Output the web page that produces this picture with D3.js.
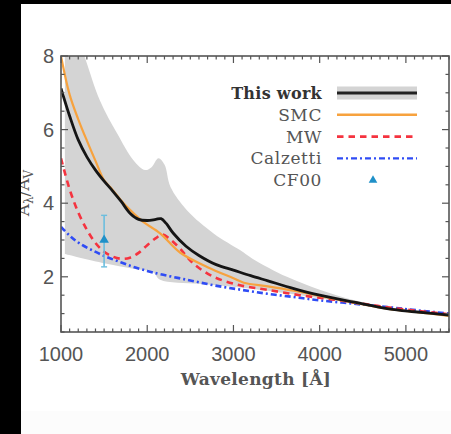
<!DOCTYPE html>
<html>
<head>
<meta charset="utf-8">
<script src="https://cdn.jsdelivr.net/npm/d3@7"></script>
<style>
  html, body { margin: 0; padding: 0; background: #fff; }
  svg { display: block; }
</style>
</head>
<body>
<svg id="chart" width="451" height="434"></svg>
<script>
// Extinction curves A_λ/A_V versus wavelength (Å)
const thisWorkWave = [1000,1100,1200,1300,1400,1500,1600,1700,1800,1900,2000,2100,2160,2220,2300,2450,2600,2800,3000,3200,3400,3700,4000,4400,4800,5100,5500];
const thisWorkA    = [7.12,6.37,5.72,5.26,4.90,4.60,4.33,4.04,3.73,3.56,3.53,3.56,3.58,3.45,3.19,2.83,2.58,2.33,2.18,2.03,1.89,1.68,1.50,1.31,1.13,1.05,0.96];

const bandWave  = [1045,1150,1280,1450,1650,1840,1975,2050,2130,2200,2270,2460,2770,3080,3230,3620,4000,4390,4780,5200,5500];
const bandUpper = [9.8,8.8,7.94,6.80,5.90,5.17,4.90,4.98,5.22,5.05,4.44,3.81,3.18,2.72,2.48,2.00,1.65,1.37,1.18,1.04,0.97];
const bandLowerWave = [1045,1500,1840,2070,2150,2600,3000,3400,4000,4500,5000,5500];
const bandLower     = [2.62,2.37,2.22,2.12,1.92,1.81,1.73,1.62,1.42,1.25,1.10,0.95];

const smcWave = [1000,1100,1200,1300,1400,1500,1570,1700,1800,1950,2150,2380,2700,3000,3120,3400,3700,4000,4400,4800,5200,5500];
const smcA    = [8.0,6.95,6.28,5.70,5.15,4.62,4.44,4.07,3.82,3.50,3.18,2.66,2.26,1.96,1.84,1.74,1.62,1.48,1.30,1.13,1.02,0.94];

const mwWave = [1000,1100,1200,1300,1400,1500,1600,1700,1800,1900,2000,2100,2175,2250,2380,2535,2770,3077,3386,3770,4160,4550,4930,5500];
const mwA    = [5.22,4.38,3.75,3.28,2.92,2.68,2.55,2.49,2.52,2.65,2.86,3.05,3.15,3.05,2.77,2.36,2.00,1.77,1.65,1.50,1.38,1.25,1.13,0.98];

const calzWave = [1000,1100,1220,1380,1530,1700,1840,2000,2150,2460,2770,3080,3390,3700,4000,4390,4780,5130,5500];
const calzA    = [3.36,3.12,2.90,2.70,2.54,2.39,2.27,2.16,2.07,1.92,1.77,1.65,1.54,1.45,1.36,1.27,1.18,1.09,1.00];

// CF00 point with error bar
const cf00Wave = [1500];
const cf00A    = [3.0];
const cf00Lo   = [2.27];
const cf00Hi   = [3.67];

const xTicks = [1000,2000,3000,4000,5000];
const yTicks = [2,4,6,8];
const legendLabels = ["This work","SMC","MW","Calzetti","CF00"];

const svg = d3.select("#chart");
const W = 451, H = 434;
const pLeft = 61, pRight = 449, pTop = 56, pBottom = 332;

const x = d3.scaleLinear().domain([1000,5500]).range([pLeft,pRight]);
const y = d3.scaleLinear().domain([0.5,8]).range([pBottom,pTop]);

svg.append("rect").attr("width",W).attr("height",H).attr("fill","#fff");
svg.append("rect").attr("x",0).attr("y",411).attr("width",W).attr("height",H-411).attr("fill","#fcfcfc");

svg.append("defs").append("clipPath").attr("id","plotclip")
  .append("rect").attr("x",pLeft).attr("y",pTop).attr("width",pRight-pLeft).attr("height",pBottom-pTop);

const plot = svg.append("g").attr("clip-path","url(#plotclip)");

// uncertainty band
const upperPts = bandWave.map((w,i)=>[x(w),y(bandUpper[i])]);
const lowerPts = bandLowerWave.map((w,i)=>[x(w),y(bandLower[i])]).reverse();
const smooth = d3.line().curve(d3.curveCatmullRom.alpha(0.5));
const upperPath = smooth(upperPts);
const lowerPath = smooth(lowerPts);
plot.append("path")
  .attr("d", upperPath + "L" + lowerPath.slice(1) + "Z")
  .attr("fill","#d4d4d4");

const line = d3.line().x(d=>x(d[0])).y(d=>y(d[1])).curve(d3.curveCatmullRom.alpha(0.5));
const zip = (a,b)=>a.map((v,i)=>[v,b[i]]);

plot.append("path").attr("d", line(zip(calzWave,calzA)))
  .attr("fill","none").attr("stroke","#2f4cf5").attr("stroke-width",2.6)
  .attr("stroke-dasharray","6,3,2,3");
plot.append("path").attr("d", line(zip(mwWave,mwA)))
  .attr("fill","none").attr("stroke","#f5333f").attr("stroke-width",2.6)
  .attr("stroke-dasharray","6.5,5");
plot.append("path").attr("d", line(zip(smcWave,smcA)))
  .attr("fill","none").attr("stroke","#f7a23e").attr("stroke-width",2.2);
plot.append("path").attr("d", line(zip(thisWorkWave,thisWorkA)))
  .attr("fill","none").attr("stroke","#151515").attr("stroke-width",2.8);

// CF00
cf00Wave.forEach((w,i)=>{
  const cx = x(w);
  plot.append("line").attr("x1",cx).attr("x2",cx).attr("y1",y(cf00Lo[i])).attr("y2",y(cf00Hi[i]))
    .attr("stroke","#6cbede").attr("stroke-width",1.6);
  [cf00Lo[i],cf00Hi[i]].forEach(v=>{
    plot.append("line").attr("x1",cx-3).attr("x2",cx+3).attr("y1",y(v)).attr("y2",y(v))
      .attr("stroke","#6cbede").attr("stroke-width",1.4);
  });
  plot.append("path").attr("d", d3.symbol(d3.symbolTriangle, 40)())
    .attr("transform",`translate(${cx},${y(cf00A[i])})`).attr("fill","#1f90c8");
});

// frame and ticks
const axisColor = "#555";
svg.append("rect").attr("x",pLeft).attr("y",pTop).attr("width",pRight-pLeft).attr("height",pBottom-pTop)
  .attr("fill","none").attr("stroke",axisColor).attr("stroke-width",1.6);

const tickG = svg.append("g").attr("stroke",axisColor).attr("stroke-width",1.2);
d3.range(1000,5501,100).forEach(v=>{
  const major = xTicks.includes(v);
  const len = major ? 7 : 3.5;
  tickG.append("line").attr("x1",x(v)).attr("x2",x(v)).attr("y1",pBottom).attr("y2",pBottom-len);
  tickG.append("line").attr("x1",x(v)).attr("x2",x(v)).attr("y1",pTop).attr("y2",pTop+len);
});
d3.range(0.5,8.01,0.5).forEach(v=>{
  const major = yTicks.includes(v);
  const len = major ? 7 : 3.5;
  tickG.append("line").attr("x1",pLeft).attr("x2",pLeft+len).attr("y1",y(v)).attr("y2",y(v));
  tickG.append("line").attr("x1",pRight).attr("x2",pRight-len).attr("y1",y(v)).attr("y2",y(v));
});

const tickFont = "'Liberation Sans', Arial, sans-serif";
svg.append("g").selectAll("text").data(xTicks).join("text")
  .attr("x",d=>x(d)).attr("y",361).attr("text-anchor","middle")
  .attr("font-family",tickFont).attr("font-size",20).attr("fill","#555").text(d=>d);
svg.append("g").selectAll("text").data(yTicks).join("text")
  .attr("x",54).attr("y",d=>y(d)+7).attr("text-anchor","end")
  .attr("font-family",tickFont).attr("font-size",20).attr("fill","#555").text(d=>d);

const serif = "'DejaVu Serif', 'Liberation Serif', serif";
svg.append("text").attr("x",256).attr("y",385).attr("text-anchor","middle")
  .attr("font-family",serif).attr("font-weight","bold").attr("font-size",17)
  .attr("letter-spacing",0.3).attr("fill","#555")
  .text("Wavelength [Å]");

// y-axis title
const yt = svg.append("text").attr("transform","translate(29,193) rotate(-90)")
  .attr("text-anchor","middle").attr("font-family",serif).attr("font-size",17).attr("fill","#555");
yt.append("tspan").text("A");
yt.append("tspan").attr("font-size",12).attr("dy",4).text("λ");
yt.append("tspan").attr("dy",-4).text("/A");
yt.append("tspan").attr("font-size",12).attr("dy",4).text("V");

// legend
const legX = 322, legY0 = 93, legDy = 21.8, l1 = 337, l2 = 417;
const leg = svg.append("g");
legendLabels.forEach((lab,i)=>{
  const ly = legY0 + i*legDy;
  leg.append("text").attr("x",legX).attr("y",ly+6).attr("text-anchor","end")
    .attr("font-family",serif)
    .attr("font-size", i===0 ? 16 : 17)
    .attr("letter-spacing", i===0 ? 0.3 : 0.6)
    .attr("font-weight", i===0 ? "bold" : "normal")
    .attr("fill", i===0 ? "#333" : "#555").text(lab);
});
leg.append("rect").attr("x",l1).attr("y",legY0-6.5).attr("width",l2-l1).attr("height",13).attr("fill","#d4d4d4");
leg.append("line").attr("x1",l1).attr("x2",l2).attr("y1",legY0).attr("y2",legY0).attr("stroke","#222").attr("stroke-width",3);
leg.append("line").attr("x1",l1).attr("x2",l2).attr("y1",legY0+legDy).attr("y2",legY0+legDy).attr("stroke","#f7a23e").attr("stroke-width",2.5);
leg.append("line").attr("x1",l1).attr("x2",l2).attr("y1",legY0+2*legDy).attr("y2",legY0+2*legDy).attr("stroke","#f5333f").attr("stroke-width",2.6).attr("stroke-dasharray","6.5,5");
leg.append("line").attr("x1",l1).attr("x2",l2).attr("y1",legY0+3*legDy).attr("y2",legY0+3*legDy).attr("stroke","#2f4cf5").attr("stroke-width",2.4).attr("stroke-dasharray","6,3,2,3");
leg.append("path").attr("d", d3.symbol(d3.symbolTriangle, 32)())
  .attr("transform",`translate(373,${legY0+4*legDy})`).attr("fill","#1f90c8");

// dark borders
svg.append("rect").attr("x",0).attr("y",0).attr("width",21).attr("height",H).attr("fill","#000");
svg.append("rect").attr("x",0).attr("y",0).attr("width",W).attr("height",4).attr("fill","#000");
</script>
</body>
</html>
